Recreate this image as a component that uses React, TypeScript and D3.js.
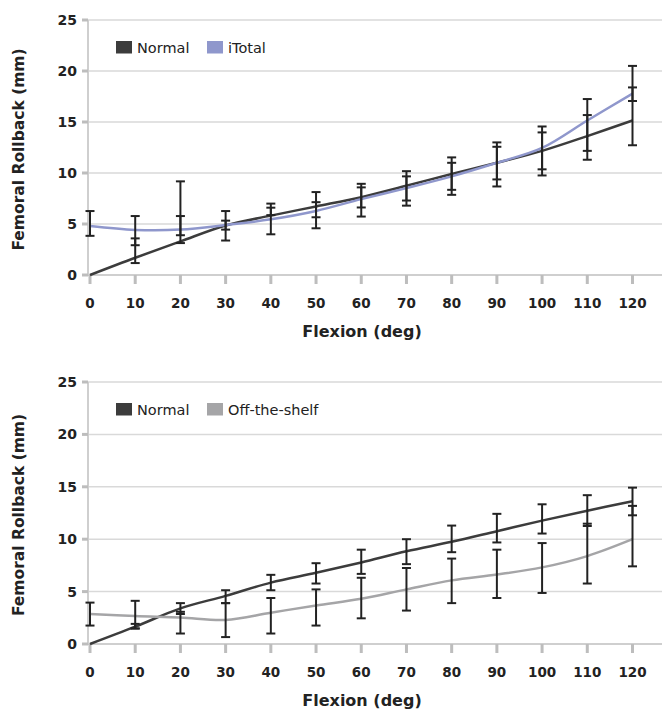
import React from 'react';
import * as d3 from 'd3';

const flexion = [0, 10, 20, 30, 40, 50, 60, 70, 80, 90, 100, 110, 120];
const yTicks = [0, 5, 10, 15, 20, 25];

// top panel: Normal vs iTotal
const normalTop = [0, 1.69, 3.29, 4.85, 5.82, 6.72, 7.63, 8.75, 9.9, 11.0, 12.17, 13.62, 15.15];
const normalTopLo = [null, 1.17, 3.9, 3.38, 5.87, 5.66, 6.62, 7.3, 8.35, 9.37, 10.36, 11.3, 12.72];
const normalTopHi = [null, 3.59, 9.18, 6.27, 6.6, 7.14, 8.59, 10.18, 11.53, 12.57, 13.98, 15.68, 18.39];
const iTotal = [4.8, 4.42, 4.45, 4.9, 5.46, 6.28, 7.44, 8.52, 9.67, 11.0, 12.46, 15.15, 17.78];
const iTotalLo = [3.84, 2.92, 3.13, 4.45, 3.99, 4.58, 5.73, 6.8, 7.86, 8.68, 9.76, 12.17, 17.06];
const iTotalHi = [6.27, 5.78, 5.78, 5.33, 7.0, 8.13, 8.94, 9.67, 11.0, 13.0, 14.56, 17.25, 20.5];

// bottom panel: Normal vs Off-the-shelf
const normalBottom = [0, 1.65, 3.4, 4.59, 5.86, 6.79, 7.78, 8.85, 9.75, 10.76, 11.77, 12.72, 13.62];
const normalBottomLo = [null, 1.48, 2.86, 3.9, 5.13, 5.77, 6.69, 7.62, 8.76, 9.69, 10.54, 11.26, 12.28];
const normalBottomHi = [null, 1.92, 3.9, 5.13, 6.6, 7.71, 9.0, 10.0, 11.3, 12.42, 13.33, 14.2, 14.92];
const offShelf = [2.86, 2.66, 2.53, 2.3, 2.99, 3.68, 4.31, 5.21, 6.07, 6.63, 7.31, 8.39, 10.0];
const offShelfLo = [1.76, 1.48, 1.0, 0.66, 1.0, 1.76, 2.45, 3.19, 3.9, 4.39, 4.87, 5.77, 7.41];
const offShelfHi = [3.95, 4.12, 3.07, 3.9, 4.39, 5.21, 6.32, 7.25, 8.15, 9.0, 9.63, 11.48, 13.18];

const FONT = '"DejaVu Sans", sans-serif';
const NORMAL_COLOR = '#3c3c3c';
const ERR_COLOR = '#222222';

type Series = {
  name: string;
  color: string;
  values: number[];
  lo: (number | null)[];
  hi: (number | null)[];
};

const Panel = ({ top, bottom, series }: { top: number; bottom: number; series: Series[] }) => {
  const axisX = 88;
  const x = d3.scaleLinear().domain([0, 120]).range([90, 632.5]);
  const y = d3.scaleLinear().domain([0, 25]).range([bottom, top]);

  const line = d3.line<number>()
    .x((_, i) => x(flexion[i]))
    .y(d => y(d))
    .curve(d3.curveCatmullRom.alpha(0.5));

  const cap = 4.5;

  return (
    <g>
      {/* gridlines */}
      {yTicks.filter(t => t > 0).map(t => (
        <line key={t} x1={axisX} x2={662} y1={y(t)} y2={y(t)} stroke="#d9d9d9" strokeWidth={1.5} />
      ))}
      {/* axes */}
      <line x1={axisX} x2={axisX} y1={y(25)} y2={bottom} stroke="#cfcfcf" strokeWidth={2} />
      <line x1={axisX} x2={662} y1={bottom} y2={bottom} stroke="#cfcfcf" strokeWidth={2} />
      {yTicks.map(t => (
        <g key={t}>
          <line x1={82} x2={axisX} y1={y(t)} y2={y(t)} stroke="#bdbdbd" strokeWidth={3} />
          <text x={77} y={y(t) + 5} textAnchor="end" fontFamily={FONT} fontWeight="bold" fontSize={14} fill="#222">{t}</text>
        </g>
      ))}
      {flexion.map(f => (
        <g key={f}>
          <line x1={x(f)} x2={x(f)} y1={bottom} y2={bottom + 9} stroke="#bdbdbd" strokeWidth={3} />
          <text x={x(f)} y={bottom + 33} textAnchor="middle" fontFamily={FONT} fontWeight="bold" fontSize={13.5} fill="#222">{f}</text>
        </g>
      ))}
      <text x={362} y={bottom + 62} textAnchor="middle" fontFamily={FONT} fontWeight="bold" fontSize={16} fill="#222">Flexion (deg)</text>
      <text transform={`translate(24, ${(top + bottom) / 2 + 2}) rotate(-90)`} textAnchor="middle" fontFamily={FONT} fontWeight="bold" fontSize={15.5} fill="#222">Femoral Rollback (mm)</text>

      {/* series lines */}
      {series.map(s => (
        <path key={s.name} d={line(s.values) || ''} fill="none" stroke={s.color} strokeWidth={2.5} />
      ))}

      {/* error bars */}
      {series.map(s => (
        <g key={s.name + '-err'}>
          {flexion.map((f, i) => {
            const lo = s.lo[i];
            const hi = s.hi[i];
            if (lo == null || hi == null) return null;
            const cx = x(f);
            return (
              <g key={f} stroke={ERR_COLOR} strokeWidth={2}>
                <line x1={cx} x2={cx} y1={y(lo)} y2={y(hi)} />
                <line x1={cx - cap} x2={cx + cap} y1={y(lo)} y2={y(lo)} />
                <line x1={cx - cap} x2={cx + cap} y1={y(hi)} y2={y(hi)} />
              </g>
            );
          })}
        </g>
      ))}

      {/* legend */}
      {series.map((s, i) => (
        <g key={s.name + '-leg'} transform={`translate(${116 + i * 91}, ${top + 21})`}>
          <rect x={0} y={0} width={16} height={12.5} fill={s.color} />
          <text x={21} y={12} fontFamily={FONT} fontSize={14.5} fill="#222">{s.name}</text>
        </g>
      ))}
    </g>
  );
};

export default function App() {
  const topSeries: Series[] = [
    { name: 'Normal', color: NORMAL_COLOR, values: normalTop, lo: normalTopLo, hi: normalTopHi },
    { name: 'iTotal', color: '#8f97cc', values: iTotal, lo: iTotalLo, hi: iTotalHi },
  ];
  const bottomSeries: Series[] = [
    { name: 'Normal', color: NORMAL_COLOR, values: normalBottom, lo: normalBottomLo, hi: normalBottomHi },
    { name: 'Off-the-shelf', color: '#a5a5a7', values: offShelf, lo: offShelfLo, hi: offShelfHi },
  ];
  return (
    <svg width={662} height={711} style={{ position: 'absolute', left: 0, top: 0, background: '#fff' }}>
      <rect width={662} height={711} fill="#fff" />
      <Panel top={20} bottom={275} series={topSeries} />
      <Panel top={382} bottom={644} series={bottomSeries} />
    </svg>
  );
}
